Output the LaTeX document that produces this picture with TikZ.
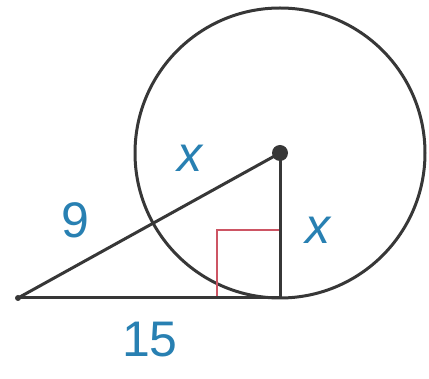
\documentclass[tikz,border=0pt]{standalone}
\usepackage{fontspec}
\setmainfont{Liberation Sans}
\usetikzlibrary{calc}
\definecolor{lbl}{RGB}{40,128,178}
\definecolor{ang}{RGB}{205,85,100}
\definecolor{ln}{RGB}{55,55,55}

\begin{document}
\begin{tikzpicture}[x=1pt, y=-1pt, line width=3pt,
 edge/.style={draw=ln},
 tick/.style={draw=ang, line width=2.5pt},
 lab/.style={text=lbl, font=\fontsize{50}{50}\selectfont, inner sep=0pt}]
\useasboundingbox (0,0) rectangle (429,379);
\coordinate (O) at (280,153);
\coordinate (T) at (280,298);
\coordinate (P) at (18,298);
\coordinate (c1) at (217,230);
\draw[edge] (O) circle (145);
\draw[tick] (c1 |- T) -- (c1) -- (c1 -| T);
\draw[edge] (P) -- (T);
\draw[edge] (P) -- (O);
\draw[edge] (O) -- (T);
\fill[ln] (O) circle (8);
\fill[ln] (P) circle (3);
\node[lab] (xa) at (190,158) {\itshape x};
\node[lab] (nine) at (75,220) {9};
\node[lab] (xb) at (318,230) {\itshape x};
\node[lab] (fifteen) at (150,340) {15};
\end{tikzpicture}
\end{document}
